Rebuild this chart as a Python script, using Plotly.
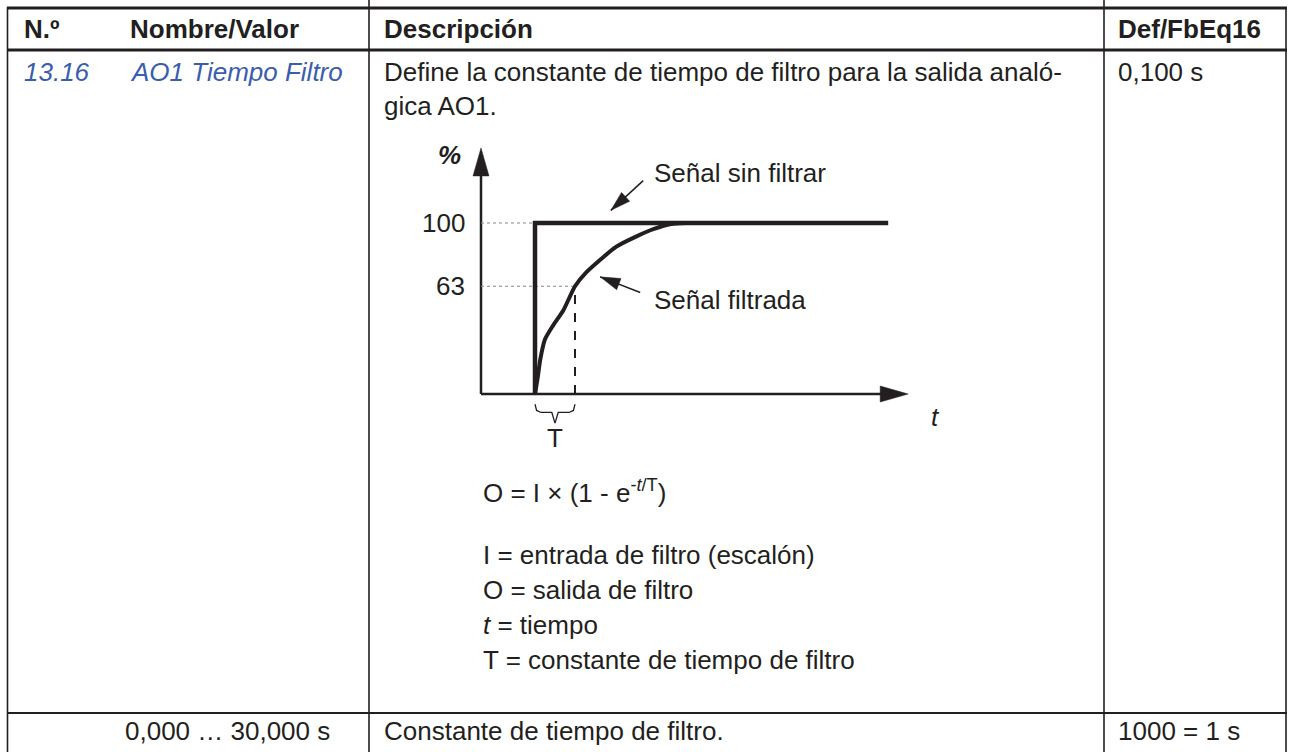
import math
import plotly.graph_objects as go

W, H = 1293, 752

# ---- table content ----
header = ["N.º", "Nombre/Valor", "Descripción", "Def/FbEq16"]
param_no = "13.16"
param_name = "AO1 Tiempo Filtro"
param_desc = ["Define la constante de tiempo de filtro para la salida analó-", "gica AO1."]
param_default = "0,100 s"
formula = "O = I × (1 - e<sup>-<i>t</i>/T</sup>)"
legend_lines = ["I = entrada de filtro (escalón)", "O = salida de filtro",
                "<i>t</i> = tiempo", "T = constante de tiempo de filtro"]
range_text = "0,000 … 30,000 s"
range_desc = "Constante de tiempo de filtro."
range_fbeq = "1000 = 1 s"

# ---- diagram data: time in units of T, output in % ----
step_time = 1.35
time_constant = 1.0
unfiltered_t = [1.35, 1.35, 10.18]
unfiltered_pct = [0, 100, 100]
filtered_t = [1.35, 1.42, 1.48, 1.6, 1.8, 2.06, 2.35, 2.625, 3.375, 3.875, 4.325, 4.75, 5.125]
filtered_pct = [0, 10, 20, 32, 40, 49, 63, 71, 86, 92, 96.5, 99.4, 100]
level_pct = [100, 63]
level_labels = ["100", "63"]
t_axis_end = 10.68
pct_axis_end = 143.9
signal_labels = ["Señal sin filtrar", "Señal filtrada"]

INK = "#231f20"
BLUE = "#3a5dae"
FONT = "Liberation Sans, Arial, sans-serif"
FS = 26

# diagram axes placement (pixels)
OX, OY = 481, 394
PX_T, PX_P = 40.0, 1.71
X_RANGE = [-1.5, 12]
Y_RANGE = [-30, 150]


def fx(px):
    return px / W


def fy(py):
    return 1 - py / H


def head(tip_t, tip_p, from_t, from_p, length, width):
    dx = (tip_t - from_t) * PX_T
    dy = (tip_p - from_p) * PX_P
    n = math.hypot(dx, dy)
    ux, uy = dx / n, dy / n
    bx, by = tip_t * PX_T - ux * length, tip_p * PX_P - uy * length
    nx, ny = -uy * width / 2, ux * width / 2
    xs = [tip_t, (bx + nx) / PX_T, (bx - nx) / PX_T, tip_t]
    ys = [tip_p, (by + ny) / PX_P, (by - ny) / PX_P, tip_p]
    return xs, ys


fig = go.Figure()


def line(x, y, width, color=INK, dash=None, shape="linear"):
    fig.add_trace(go.Scatter(x=x, y=y, mode="lines", hoverinfo="skip", showlegend=False,
                             line=dict(color=color, width=width, dash=dash, shape=shape,
                                       smoothing=0.6 if shape == "spline" else None)))


def poly(xs, ys):
    fig.add_trace(go.Scatter(x=xs, y=ys, mode="lines", fill="toself", fillcolor=INK,
                             line=dict(color=INK, width=0.5), hoverinfo="skip", showlegend=False))


# axes with arrows
line([0, t_axis_end - 0.4], [0, 0], 2.5)
poly(*head(t_axis_end, 0, 0, 0, 28, 16))
line([0, 0], [0, pct_axis_end - 10], 2.5)
poly(*head(0, pct_axis_end, 0, 0, 28, 16))

# guide lines
t_mark = step_time + time_constant
for lvl, end in zip(level_pct, [step_time, t_mark]):
    line([0, end], [lvl, lvl], 1, color="#888888", dash="dot")
line([t_mark, t_mark], [0, level_pct[1]], 2, dash="dash")

# signals
line(unfiltered_t, unfiltered_pct, 4.5)
line(filtered_t, filtered_pct, 4, shape="spline")

# label pointers
pointers = [((4.055, 124.8), (3.2475, 107.4)), ((3.98, 59.4), (2.98, 68.5))]
for (t0, p0), (t1, p1) in pointers:
    line([t0, t1], [p0, p1], 1.5)
    poly(*head(t1, p1, t0, p0, 20, 12))

# brace under T
tm = step_time + time_constant / 2
b_top, b_mid, b_tip = -6, -10.8, -17
line([step_time, step_time + 0.04, step_time + 0.15, tm - 0.08, tm, tm + 0.08,
      t_mark - 0.15, t_mark - 0.04, t_mark],
     [b_top, b_mid + 1.2, b_mid, b_mid, b_tip, b_mid, b_mid, b_mid + 1.2, b_top], 1.3)

ann = []


def text(x, y, s, ref="paper", anchor="left", color=INK, weight="normal", style="normal"):
    ann.append(dict(x=x, y=y, xref=ref if ref == "paper" else "x", yref=ref if ref == "paper" else "y",
                    text=s, showarrow=False, xanchor=anchor, yanchor="middle",
                    font=dict(family=FONT, size=FS, color=color, weight=weight, style=style)))


# diagram labels
for lvl, lab in zip(level_pct, level_labels):
    text(-0.35, lvl, lab, ref="data", anchor="right")
text(-0.8, 139.5, "%", ref="data", anchor="center", weight="bold", style="italic")
text(4.275, 129.2, signal_labels[0], ref="data")
text(4.275, 55.0, signal_labels[1], ref="data")
text(11.37, -13.5, "t", ref="data", anchor="center", style="italic")
text(tm, -26, "T", ref="data", anchor="center")

# table text
col_x = [22, 128, 382, 1116]
for cx, h in zip(col_x, header):
    text(fx(cx), fy(29), h, weight="bold")
text(fx(22), fy(72), param_no, color=BLUE, style="italic")
text(fx(128), fy(72), param_name, color=BLUE, style="italic")
for i, s in enumerate(param_desc):
    text(fx(382), fy(72 + 34 * i), s)
text(fx(1116), fy(72), param_default)
text(fx(481), fy(491), formula)
for i, s in enumerate(legend_lines):
    text(fx(481), fy(555 + 35 * i), s)
text(fx(332), fy(731), range_text, anchor="right")
text(fx(382), fy(731), range_desc)
text(fx(1116), fy(731), range_fbeq)

# table grid
shapes = []


def seg(x0, y0, x1, y1, w):
    shapes.append(dict(type="line", xref="paper", yref="paper", x0=fx(x0), y0=fy(y0),
                       x1=fx(x1), y1=fy(y1), line=dict(color=INK, width=w)))


seg(7, 8, 1287, 8, 2.8)
seg(7, 50, 1287, 50, 2.8)
seg(7, 713, 1287, 713, 2.2)
seg(7.5, 7, 7.5, 752, 1.6)
seg(369, 0, 369, 752, 1.6)
seg(1104, 0, 1104, 752, 1.6)
seg(1286, 7, 1286, 752, 1.6)

fig.update_layout(
    width=W, height=H, margin=dict(l=0, r=0, t=0, b=0),
    paper_bgcolor="white", plot_bgcolor="white", showlegend=False,
    xaxis=dict(domain=[fx(OX + X_RANGE[0] * PX_T), fx(OX + X_RANGE[1] * PX_T)],
               range=X_RANGE, visible=False, fixedrange=True),
    yaxis=dict(domain=[fy(OY - Y_RANGE[0] * PX_P), fy(OY - Y_RANGE[1] * PX_P)],
               range=Y_RANGE, visible=False, fixedrange=True),
    annotations=ann, shapes=shapes,
)

fig.write_html("out.html", config={"displayModeBar": False},
               post_script="document.body.style.margin='0';document.body.style.overflow='hidden';")
